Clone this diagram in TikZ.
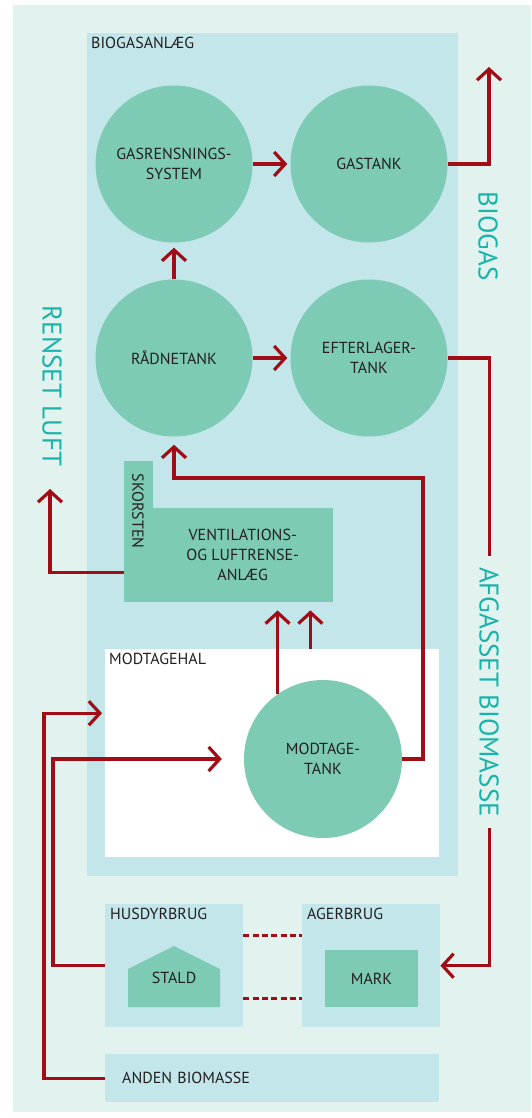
\documentclass[tikz,border=0pt]{standalone}
\usepackage{fontspec}
\setmainfont{PT Sans}
\usepackage{xcolor}
\usepackage{tikz}
\usetikzlibrary{arrows.meta, positioning, calc}

\definecolor{mintbg}{HTML}{E2F2EE}
\definecolor{plantblue}{HTML}{C3E6EA}
\definecolor{tankgreen}{HTML}{7DCBB5}
\definecolor{flowred}{HTML}{A00D16}
\definecolor{labelteal}{HTML}{1AB3AA}
\definecolor{textdark}{HTML}{231F20}

\newcommand{\darkfont}{\fontsize{16}{20}\selectfont}
\newcommand{\tealfont}{\fontsize{27}{30}\selectfont}

\begin{document}
\begin{tikzpicture}[
    x=1pt, y=-1pt,
    zone/.style={rectangle, fill=plantblue, anchor=north west, inner sep=0pt},
    hallbox/.style={rectangle, fill=white, anchor=north west, inner sep=0pt},
    tank/.style={circle, fill=tankgreen, minimum size=157pt, inner sep=0pt,
      align=center, font=\darkfont, text=textdark},
    unit/.style={rectangle, fill=tankgreen, inner sep=0pt, align=center,
      font=\darkfont, text=textdark},
    tag/.style={inner sep=0pt, font=\darkfont, text=textdark},
    outlabel/.style={rotate=-90, inner sep=0pt, font=\tealfont, text=labelteal},
    flow/.style={draw=flowred, line width=3.2pt,
      -{Straight Barb[length=11pt,width=24pt]}},
    link/.style={draw=flowred, line width=3.2pt, dash pattern=on 6pt off 3.3pt}
]
\useasboundingbox (0,0) rectangle (531,1118);
\fill[mintbg] (13,5) rectangle (531,1112);

% Zones
\node[zone, minimum width=371pt, minimum height=843pt] (anlaeg) at (87,33) {};
\node[hallbox, minimum width=334pt, minimum height=208pt] (hal) at (105,649) {};
\node[zone, minimum width=138pt, minimum height=123pt] (husdyr) at (105,904) {};
\node[zone, minimum width=138pt, minimum height=123pt] (ager) at (302,904) {};
\node[zone, minimum width=334pt, minimum height=48pt, text width=300pt,
  inner xsep=17pt, align=left, font=\darkfont, text=textdark] (anden) at (105,1054) {ANDEN BIOMASSE};

\node[tag, below right=4pt and 4pt of anlaeg.north west] (anlaegtag) {BIOGASANLÆG};
\node[tag, below right=4pt and 4pt of hal.north west] (haltag) {MODTAGEHAL};
\node[tag, below right=4pt and 5pt of husdyr.north west] (husdyrtag) {HUSDYRBRUG};
\node[tag, below right=4pt and 5pt of ager.north west] (agertag) {AGERBRUG};

% Tanks
\node[tank] (rens) at (174,164) {GASRENSNINGS-\\SYSTEM};
\node[tank] (gas) at (369,164) {GASTANK};
\node[tank] (raadne) at (174,358) {RÅDNETANK};
\node[tank] (efter) at (369,358) {EFTERLAGER-\\TANK};
\node[tank, minimum size=158pt] (modtage) at (323,759) {MODTAGE-\\TANK};

% Ventilation with chimney
\node[unit, anchor=north west, minimum width=29pt, minimum height=141pt] (chimney) at (124,461) {};
\node[unit, anchor=north west, minimum width=181pt, minimum height=94pt] (vent) at (152,508)
  {VENTILATIONS-\\OG LUFTRENSE-\\ANLÆG};
\node[tag, rotate=-90] (skorsten) at (138,511) {SKORSTEN};

% Farm
\fill[tankgreen] (128,1007) -- (128,969) -- (174,946) -- (220,969) -- (220,1007) -- cycle;
\node[tag] (stald) at (174,978) {STALD};
\node[unit, minimum width=93pt, minimum height=57pt] (mark) at (371.5,978.5) {MARK};

% Free ends
\coordinate (biogasend) at (489,67);
\coordinate (luftend) at (50,489);
\coordinate (turn) at (423,478);
\coordinate (vin2) at ([xshift=-23pt]vent.south east);
\coordinate (halin) at ([yshift=40pt]hal.west);
\coordinate (tankin) at ([xshift=-22pt]modtage.west);

% Arrows
\draw[flow, shorten >=3pt] (rens) -- (gas);
\draw[flow] (gas.east) -| (biogasend);
\draw[flow, shorten >=5pt] (raadne) -- (rens);
\draw[flow, shorten >=3pt] (raadne) -- (efter);
\draw[flow] (efter.east) -| ($(ager.east)+(49,0)$) -- (ager.east);
\draw[flow, shorten >=8pt] (modtage.east) -| (turn) -| (raadne.south);
\draw[flow, shorten >=8pt] (modtage.125.6) -- (modtage.125.6 |- vent.south);
\draw[flow, shorten >=8pt] (vin2 |- hal.north) -- (vin2);
\draw[flow] ([yshift=30pt]chimney.south west) -| (luftend);
\draw[flow, shorten >=3pt] (anden.west) -- ++(-61,0) |- (halin);
\draw[flow] (husdyr.west) -- ++(-52,0) |- (tankin);
\draw[link] ([yshift=30.5pt]husdyr.east) -- ([yshift=30.5pt]ager.west);
\draw[link] ([yshift=-32.5pt]husdyr.east) -- ([yshift=-32.5pt]ager.west);

% Outgoing streams
\node[outlabel] (biogas) at (488,236) {BIOGAS};
\node[outlabel] (renset) at (52,386) {RENSET LUFT};
\node[outlabel, fill=mintbg, inner xsep=11pt] (afgasset) at (489,692) {AFGASSET BIOMASSE};

\end{tikzpicture}
\end{document}
